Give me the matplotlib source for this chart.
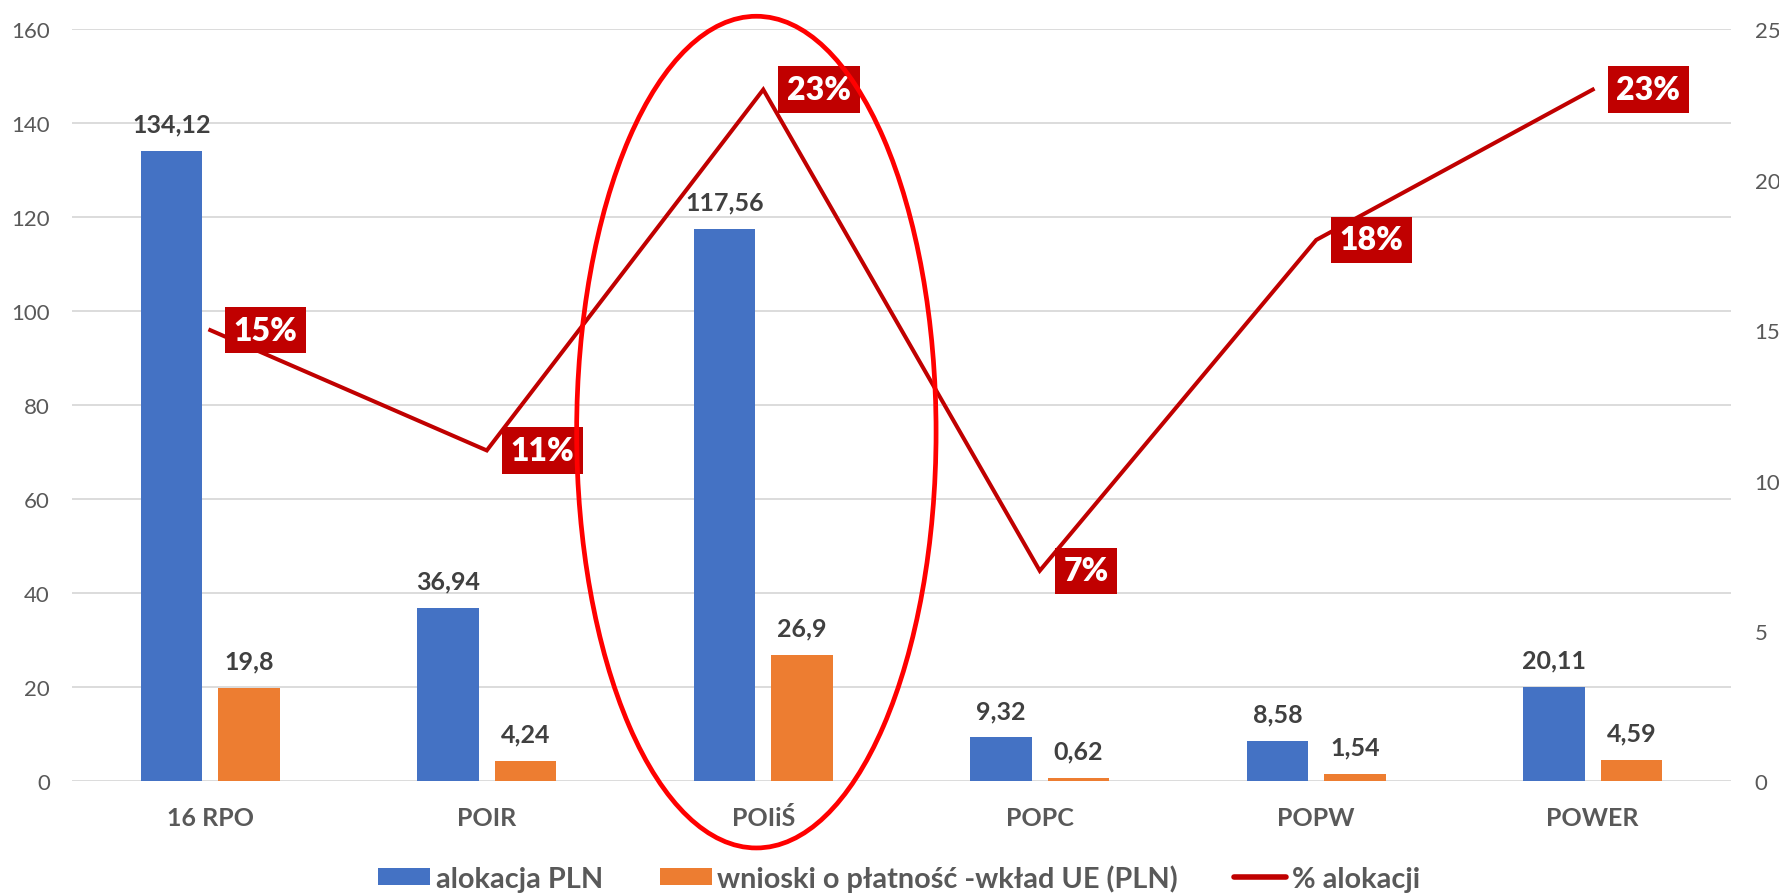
import matplotlib
matplotlib.use('Agg')
import matplotlib.pyplot as plt
from matplotlib.patches import Ellipse, Patch
from matplotlib.lines import Line2D
import numpy as np

plt.rcParams['font.family'] = ['Lato', 'DejaVu Sans']

# ── data ──────────────────────────────────────────────────────────────────────
categories = ['16 RPO', 'POIR', 'POIiŚ', 'POPC', 'POPW', 'POWER']
alokacja   = [134.12, 36.94, 117.56, 9.32, 8.58, 20.11]
wnioski    = [19.8, 4.24, 26.9, 0.62, 1.54, 4.59]
procent    = [15, 11, 23, 7, 18, 23]
left_ticks  = [0, 20, 40, 60, 80, 100, 120, 140, 160]
right_ticks = [0, 5, 10, 15, 20, 25]

# ── colours ───────────────────────────────────────────────────────────────────
C_BLUE   = '#4472C4'
C_ORANGE = '#ED7D31'
C_LINE   = '#C00000'
C_RING   = '#FF0000'
C_GRID   = '#D9D9D9'
C_TICK   = '#595959'
C_VALUE  = '#404040'

fig = plt.figure(figsize=(17.79, 8.95), dpi=100)
ax = fig.add_axes([0.0405, 0.126, 0.9325, 0.840])
ax2 = ax.twinx()

x = np.arange(len(categories))
w = 0.222
off = 0.140

ax.bar(x - off, alokacja, w, color=C_BLUE, zorder=3)
ax.bar(x + off, wnioski, w, color=C_ORANGE, zorder=3)

def fmt(v):
    s = f'{v:.2f}'.rstrip('0').rstrip('.')
    return s.replace('.', ',')

for xi, v in zip(x, alokacja):
    ax.annotate(fmt(v), (xi - off, v), xytext=(0, 14), textcoords='offset points',
                ha='center', va='baseline', fontsize=18, fontweight='bold',
                color=C_VALUE, zorder=4)
for xi, v in zip(x, wnioski):
    ax.annotate(fmt(v), (xi + off, v), xytext=(0, 14), textcoords='offset points',
                ha='center', va='baseline', fontsize=18, fontweight='bold',
                color=C_VALUE, zorder=4)

ax.set_xlim(-0.5, len(categories) - 0.5)
ax.set_ylim(0, 160)
ax.set_yticks(left_ticks)
ax.yaxis.grid(True, color=C_GRID, lw=1.3)
ax.set_axisbelow(True)
ax.set_xticks(x)
ax.set_xticklabels(categories, fontsize=18, fontweight='bold', color=C_TICK)
ax.tick_params(axis='x', length=0, pad=18)
ax.tick_params(axis='y', length=0, pad=16, labelsize=16, labelcolor=C_TICK)
for s in ax.spines.values():
    s.set_visible(False)

# ── percentage line ──────────────────────────────────────────────────────────
ax2.plot(x, procent, color=C_LINE, lw=2.9, zorder=3, solid_joinstyle='miter')
ax2.set_ylim(0, 25)
ax2.set_yticks(right_ticks)
ax2.tick_params(axis='y', length=0, pad=17, labelsize=16, labelcolor=C_TICK)
for s in ax2.spines.values():
    s.set_visible(False)

for xi, p in zip(x, procent):
    ax2.annotate(f'{p}%', (xi, p), xytext=(17, 0), textcoords='offset points',
                 ha='left', va='center', fontsize=23, fontweight='heavy',
                 color='white', zorder=5,
                 bbox=dict(boxstyle='square,pad=0.27', fc=C_LINE, ec='none'))

# ── highlight ring around POIiŚ ──────────────────────────────────────────────
ring = Ellipse((2 - 0.025, 74.3), 1.30, 177, transform=ax.transData,
               fill=False, ec=C_RING, lw=3.4, zorder=10, clip_on=False)
ax2.add_patch(ring)

# ── legend ───────────────────────────────────────────────────────────────────
handles = [Patch(fc=C_BLUE, ec='none'), Patch(fc=C_ORANGE, ec='none'),
           Line2D([], [], color=C_LINE, lw=4, solid_capstyle='round')]
labels = ['alokacja PLN', 'wnioski o płatność -wkład UE (PLN)', '% alokacji']
leg = fig.legend(handles, labels, loc='center', bbox_to_anchor=(0.5055, 0.018),
                 ncol=3, frameon=False, fontsize=20.8, handlelength=1.8,
                 handleheight=0.55, handletextpad=0.2, columnspacing=1.95)
for t in leg.get_texts():
    t.set_color(C_TICK)
    t.set_fontweight('bold')

fig.savefig('out.png', dpi=100, facecolor='white')
